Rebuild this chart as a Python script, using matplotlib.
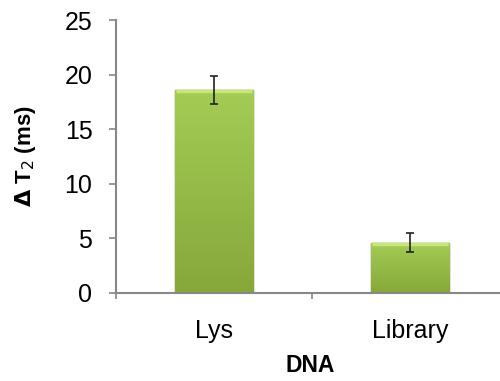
import numpy as np
import matplotlib
matplotlib.use('Agg')
import matplotlib.pyplot as plt
from matplotlib.colors import LinearSegmentedColormap

plt.rcParams['font.family'] = ['Liberation Sans', 'DejaVu Sans']

categories = ['Lys', 'Library']
values = [18.6, 4.6]
errors = [1.3, 0.85]

fig = plt.figure(figsize=(5.0, 3.81), dpi=100)
ax = fig.add_axes([0.232, 0.231, 0.784, 0.7165])

x = np.arange(len(categories))
bars = ax.bar(x, values, width=0.4, color='#9bc34b', edgecolor='#5c7a22',
              linewidth=1.0, zorder=2)

# vertical gradient inside each bar
grad = LinearSegmentedColormap.from_list('g', ['#86a83a', '#a4cc55'])
img = np.linspace(0, 1, 100).reshape(-1, 1)
for b in bars:
    x0, y0 = b.get_x(), b.get_y()
    w, h = b.get_width(), b.get_height()
    im = ax.imshow(img, cmap=grad, origin='lower', aspect='auto',
                   extent=[x0, x0 + w, y0, y0 + h], zorder=2.5)
    im.set_clip_path(b)
    # light top rim
    ax.plot([x0 + w * 0.02, x0 + w * 0.98], [y0 + h - 0.12, y0 + h - 0.12],
            color='#c6e878', lw=2.5, zorder=2.6, solid_capstyle='butt')

ax.errorbar(x, values, yerr=errors, fmt='none', ecolor='#222222',
            elinewidth=1.2, capsize=3, capthick=1.2, zorder=3)

ax.set_xlim(-0.5, 1.5)
ax.set_ylim(0, 25)
ax.set_yticks([0, 5, 10, 15, 20, 25])
ax.set_xticks(x)
ax.set_xticklabels(categories)
ax.set_xticks([-0.5, 0.5, 1.5], minor=True)
ax.tick_params(axis='x', which='major', length=0, pad=19, labelsize=18)
ax.tick_params(axis='x', which='minor', length=4.5, width=1.2, color='#888888')
ax.tick_params(axis='y', length=5, width=1.2, color='#888888', labelsize=18, pad=12)

for s in ['top', 'right']:
    ax.spines[s].set_visible(False)
for s in ['left', 'bottom']:
    ax.spines[s].set_color('#888888')
    ax.spines[s].set_linewidth(1.5)

ax.set_xlabel('DNA', fontsize=16.5, fontweight='bold')
ax.xaxis.set_label_coords(0.495, -0.225)
ax.set_ylabel(r'$\mathbf{\Delta}$ T$_{\mathrm{2}}$ (ms)', fontsize=16,
              fontweight='bold')
ax.yaxis.set_label_coords(-0.198, 0.5)

fig.savefig('out.png', dpi=100)
